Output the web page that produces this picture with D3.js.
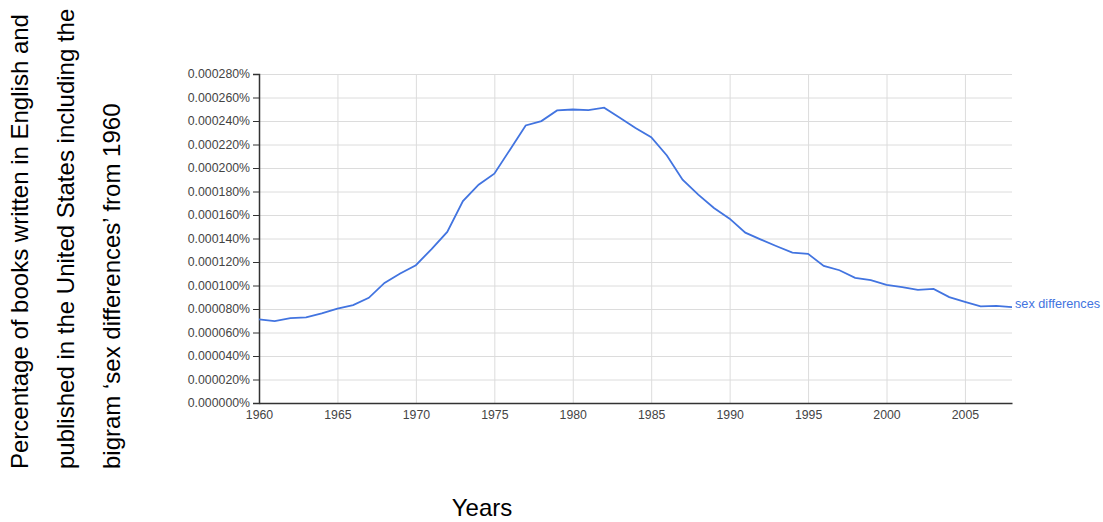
<!DOCTYPE html>
<html>
<head>
<meta charset="utf-8">
<script src="https://cdn.jsdelivr.net/npm/d3@7"></script>
<style>
  body { margin: 0; background: #fff; }
  svg { font-family: Arial, "Liberation Sans", sans-serif; }
  .grid line { stroke: #dcdcdc; }
  .grid path { display: none; }
  .tick text { fill: #444; font-size: 12.3px; }
</style>
</head>
<body>
<div id="container"></div>
<script>
// years and share of books (in percent) containing "sex differences"
const years = d3.range(1960, 2009);
const values = [
  0.0000711, 0.0000697, 0.0000722, 0.0000728, 0.0000762, 0.0000804, 0.0000833, 0.0000895, 0.0001022, 0.0001102,
  0.0001173, 0.0001310, 0.0001456, 0.0001719, 0.0001858, 0.0001952, 0.0002156, 0.0002362, 0.0002399, 0.0002490,
  0.0002498, 0.0002493, 0.0002513, 0.0002428, 0.0002340, 0.0002263, 0.0002107, 0.0001900, 0.0001773, 0.0001660,
  0.0001569, 0.0001450, 0.0001391, 0.0001334, 0.0001280, 0.0001269, 0.0001167, 0.0001130, 0.0001065, 0.0001045,
  0.0001005, 0.0000986, 0.0000963, 0.0000971, 0.0000901, 0.0000861, 0.0000822, 0.0000827, 0.0000816
];
const yTicks = [0, 0.00002, 0.00004, 0.00006, 0.00008, 0.0001, 0.00012, 0.00014,
  0.00016, 0.00018, 0.0002, 0.00022, 0.00024, 0.00026, 0.00028];
const xTicks = [1960, 1965, 1970, 1975, 1980, 1985, 1990, 1995, 2000, 2005];
const seriesName = "sex differences";
const titleLines = [
  "Percentage of books written in English and",
  "published in the United States including the",
  "bigram \u2018sex differences\u2019 from 1960"
];

const width = 1103, height = 522;
const margin = { top: 74, right: 91, bottom: 119, left: 259 };
const innerW = width - margin.left - margin.right;
const innerH = height - margin.top - margin.bottom;

const svg = d3.select("#container")
  .append("svg")
  .attr("width", width)
  .attr("height", height);

const g = svg.append("g")
  .attr("transform", `translate(${margin.left}, ${margin.top})`);

const xScale = d3.scaleLinear().domain([1960, 2008]).range([0, innerW]);
const yScale = d3.scaleLinear().domain([0, 0.00028]).range([innerH, 0]);

// horizontal grid
g.append("g")
  .attr("class", "grid")
  .call(d3.axisLeft(yScale).tickValues(yTicks).tickSize(-innerW).tickFormat(""));

// vertical grid
g.append("g")
  .attr("class", "grid")
  .attr("transform", `translate(0, ${innerH})`)
  .call(d3.axisBottom(xScale).tickValues(xTicks).tickSize(-innerH).tickFormat(""));

// y axis
const yAxis = g.append("g")
  .call(d3.axisLeft(yScale).tickValues(yTicks).tickSize(6).tickPadding(3)
    .tickFormat((d) => d.toFixed(6) + "%"));
yAxis.select(".domain").attr("stroke", "#333").attr("stroke-width", 1.5);
yAxis.selectAll(".tick line").attr("stroke", "#333");

// x axis
const xAxis = g.append("g")
  .attr("transform", `translate(0, ${innerH})`)
  .call(d3.axisBottom(xScale).tickValues(xTicks).tickSize(0).tickPadding(7)
    .tickFormat((d) => d));
xAxis.select(".domain").attr("stroke", "#333").attr("stroke-width", 1.5);

// line
const data = years.map((y, i) => ({ year: y, value: values[i] }));
g.append("path")
  .datum(data)
  .attr("fill", "none")
  .attr("stroke", "#4274e0")
  .attr("stroke-width", 1.8)
  .attr("d", d3.line().x((d) => xScale(d.year)).y((d) => yScale(d.value)));

const last = data[data.length - 1];
g.append("text")
  .attr("x", xScale(last.year) + 3)
  .attr("y", yScale(last.value))
  .attr("dy", "0.1em")
  .attr("fill", "#4274e0")
  .style("font-size", "12.7px")
  .text(seriesName);

// y title (rotated, three lines)
titleLines.forEach((t, i) => {
  svg.append("text")
    .attr("transform", `translate(${28 + i * 46}, 469) rotate(-90)`)
    .attr("fill", "#000")
    .style("font-size", "24px")
    .text(t);
});

// x title
svg.append("text")
  .attr("x", 482)
  .attr("y", 516)
  .attr("text-anchor", "middle")
  .attr("fill", "#000")
  .style("font-size", "24px")
  .text("Years");
</script>
</body>
</html>
